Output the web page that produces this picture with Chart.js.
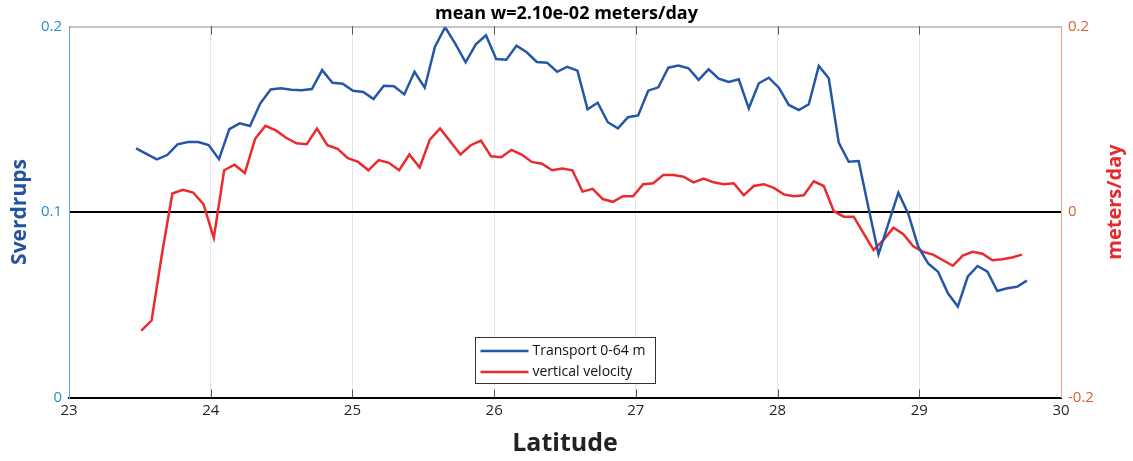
<!DOCTYPE html>
<html>
<head>
<meta charset="utf-8">
<script src="https://cdn.jsdelivr.net/npm/chart.js@4.4.1/dist/chart.umd.min.js"></script>
<style>
  body { margin: 0; background: #fff; }
</style>
</head>
<body>
<canvas id="myChart" width="1133" height="461"></canvas>
<script>
// model grid along the section: transport on cell edges (Mercator-spaced),
// vertical velocity on cell centres
const latFirstEdge = 23.473;
const latLastEdge = 29.759;

// Transport 0-64 m (Sverdrups, left axis)
const transport = [
    0.1343, 0.1313, 0.1284, 0.1307, 0.1365, 0.1377, 0.1377, 0.1361, 0.1285, 0.1447,
    0.1478, 0.1464, 0.1586, 0.1661, 0.1667, 0.1659, 0.1656, 0.1663, 0.1765, 0.1697,
    0.1692, 0.1654, 0.1647, 0.1609, 0.1681, 0.1678, 0.1634, 0.1756, 0.1670, 0.1891,
    0.1996, 0.1906, 0.1807, 0.1904, 0.1953, 0.1825, 0.1821, 0.1897, 0.1861, 0.1809,
    0.1805, 0.1756, 0.1783, 0.1762, 0.1554, 0.1589, 0.1484, 0.1451, 0.1511, 0.1521,
    0.1654, 0.1672, 0.1778, 0.1789, 0.1775, 0.1712, 0.1769, 0.1719, 0.1701, 0.1715,
    0.1559, 0.1694, 0.1724, 0.1670, 0.1577, 0.1550, 0.1581, 0.1787, 0.1721, 0.1374,
    0.1271, 0.1275, 0.1020, 0.0772, 0.0939, 0.1104, 0.0990, 0.0813, 0.0723, 0.0678,
    0.0562, 0.0490, 0.0651, 0.0709, 0.0678, 0.0574, 0.0589, 0.0597, 0.0630
];

// vertical velocity (meters/day, right axis)
const velocity = [
    -0.128, -0.117, -0.045, 0.020, 0.024, 0.021, 0.0085, -0.028, 0.045, 0.051,
    0.042, 0.079, 0.093, 0.088, 0.080, 0.074, 0.073, 0.090, 0.072, 0.068,
    0.058, 0.054, 0.045, 0.056, 0.053, 0.045, 0.062, 0.048, 0.078, 0.090,
    0.076, 0.062, 0.072, 0.077, 0.060, 0.059, 0.067, 0.062, 0.054, 0.052,
    0.045, 0.047, 0.045, 0.022, 0.025, 0.014, 0.011, 0.017, 0.017, 0.030,
    0.031, 0.040, 0.040, 0.038, 0.032, 0.036, 0.032, 0.030, 0.031, 0.018,
    0.028, 0.030, 0.026, 0.019, 0.017, 0.018, 0.033, 0.028, 0.001, -0.005,
    -0.005, -0.023, -0.041, -0.030, -0.017, -0.024, -0.037, -0.043, -0.046, -0.052,
    -0.058, -0.047, -0.043, -0.045, -0.052, -0.051, -0.049, -0.046
];

const xTicks = [23, 24, 25, 26, 27, 28, 29, 30];
const leftTicks = [0, 0.1, 0.2];
const rightTicks = [-0.2, 0, 0.2];

const chartTitle = 'mean w=2.10e-02 meters/day';
const xLabel = 'Latitude';
const leftLabel = 'Sverdrups';
const rightLabel = 'meters/day';
const seriesNames = ['Transport 0-64 m', 'vertical velocity'];

const FONT = "'Open Sans', 'Noto Sans', sans-serif";
Chart.defaults.font.family = FONT;

// Mercator grid helpers
const rad = Math.PI / 180;
const mercY = lat => Math.log(Math.tan(Math.PI / 4 + lat * rad / 2));
const mercLat = y => (2 * Math.atan(Math.exp(y)) - Math.PI / 2) / rad;
const y0 = mercY(latFirstEdge);
const dY = (mercY(latLastEdge) - y0) / (transport.length - 1);
const latEdges = transport.map((_, i) => mercLat(y0 + i * dY));
const latCentres = velocity.map((_, i) => mercLat(y0 + (i + 0.5) * dY));

function toPoints(lats, values) {
    return values.map((v, i) => ({ x: lats[i], y: v }));
}

// frame extras: top border, inward ticks, right label, legend box
const frame = {
    id: 'frame',
    afterDatasetsDraw(chart) {
        const ctx = chart.ctx;
        const a = chart.chartArea;
        const xs = chart.scales.x;
        ctx.save();

        ctx.strokeStyle = '#8a8a8a';
        ctx.lineWidth = 1;
        ctx.beginPath();
        ctx.moveTo(a.left, a.top + 0.5);
        ctx.lineTo(a.right, a.top + 0.5);
        ctx.stroke();

        ctx.strokeStyle = '#555';
        xTicks.slice(1, -1).forEach(t => {
            const px = Math.round(xs.getPixelForValue(t)) + 0.5;
            ctx.beginPath();
            ctx.moveTo(px, a.top);
            ctx.lineTo(px, a.top + 8);
            ctx.moveTo(px, a.bottom);
            ctx.lineTo(px, a.bottom - 8);
            ctx.stroke();
        });

        // right axis label, reading bottom to top
        ctx.save();
        ctx.translate(1115, (a.top + a.bottom) / 2 - 10);
        ctx.rotate(-Math.PI / 2);
        ctx.fillStyle = '#e8282b';
        ctx.font = 'bold 20px ' + FONT;
        ctx.textAlign = 'center';
        ctx.textBaseline = 'middle';
        ctx.fillText(rightLabel, 0, 0);
        ctx.restore();

        // legend
        const w = 180, h = 46;
        const bx = Math.round((a.left + a.right) / 2 - w / 2) + 0.5;
        const by = Math.round(a.bottom - 14.5 - h) + 0.5;
        ctx.fillStyle = '#fff';
        ctx.fillRect(bx, by, w, h);
        ctx.strokeStyle = '#333';
        ctx.lineWidth = 1;
        ctx.strokeRect(bx, by, w, h);
        ctx.font = '14px ' + FONT;
        ctx.textBaseline = 'middle';
        ctx.textAlign = 'left';
        chart.data.datasets.forEach((ds, i) => {
            const ly = by + 13.5 + i * 21;
            ctx.strokeStyle = ds.borderColor;
            ctx.lineWidth = 2.5;
            ctx.beginPath();
            ctx.moveTo(bx + 5, ly);
            ctx.lineTo(bx + 53, ly);
            ctx.stroke();
            ctx.fillStyle = '#111';
            ctx.fillText(ds.label, bx + 57, ly);
        });
        ctx.restore();
    }
};

var ctx = document.getElementById('myChart').getContext('2d');
var chart = new Chart(ctx, {
    type: 'line',
    data: {
        datasets: [{
            label: seriesNames[0],
            data: toPoints(latEdges, transport),
            borderColor: '#2457a6',
            borderWidth: 2.5,
            pointRadius: 0,
            tension: 0,
            yAxisID: 'y'
        }, {
            label: seriesNames[1],
            data: toPoints(latCentres, velocity),
            borderColor: '#ea2a2c',
            borderWidth: 2.5,
            pointRadius: 0,
            tension: 0,
            yAxisID: 'y1'
        }]
    },
    options: {
        responsive: false,
        animation: false,
        layout: { padding: 0 },
        plugins: {
            legend: { display: false },
            tooltip: { enabled: false },
            title: {
                display: true,
                text: chartTitle,
                color: '#000',
                font: { size: 18, weight: 'bold' },
                padding: { top: 3, bottom: 1.9 }
            }
        },
        scales: {
            x: {
                type: 'linear',
                min: 23,
                max: 30,
                afterBuildTicks: s => { s.ticks = xTicks.map(v => ({ value: v })); },
                afterFit: s => { s.height = 63.5; },
                ticks: { color: '#262626', font: { size: 15 }, padding: 4 },
                grid: { color: '#e4e4e4', lineWidth: 1, drawTicks: false },
                border: { color: '#000', width: 2 },
                title: {
                    display: true,
                    text: xLabel,
                    color: '#222',
                    font: { size: 25, weight: 'bold' },
                    padding: { top: 0, bottom: 2 }
                }
            },
            y: {
                position: 'left',
                min: 0,
                max: 0.2,
                afterBuildTicks: s => { s.ticks = leftTicks.map(v => ({ value: v })); },
                afterFit: s => { s.width = 69; },
                ticks: { color: '#2a8ccc', font: { size: 15 }, padding: 7 },
                grid: {
                    drawTicks: false,
                    lineWidth: 2,
                    color: c => (c.tick && Math.abs(c.tick.value - 0.1) < 1e-9) ? '#000' : 'rgba(0,0,0,0)'
                },
                border: { color: '#5aa8de', width: 1 },
                title: {
                    display: true,
                    text: leftLabel,
                    color: '#2352a3',
                    font: { size: 21, weight: 'bold' },
                    padding: { top: 7, bottom: 0 }
                }
            },
            y1: {
                position: 'right',
                min: -0.2,
                max: 0.2,
                afterBuildTicks: s => { s.ticks = rightTicks.map(v => ({ value: v })); },
                afterFit: s => { s.width = 72; },
                ticks: { color: '#d9602c', font: { size: 15 }, padding: 7 },
                grid: { drawOnChartArea: false, drawTicks: false },
                border: { color: '#eea487', width: 1 }
            }
        }
    },
    plugins: [frame]
});
</script>
</body>
</html>
